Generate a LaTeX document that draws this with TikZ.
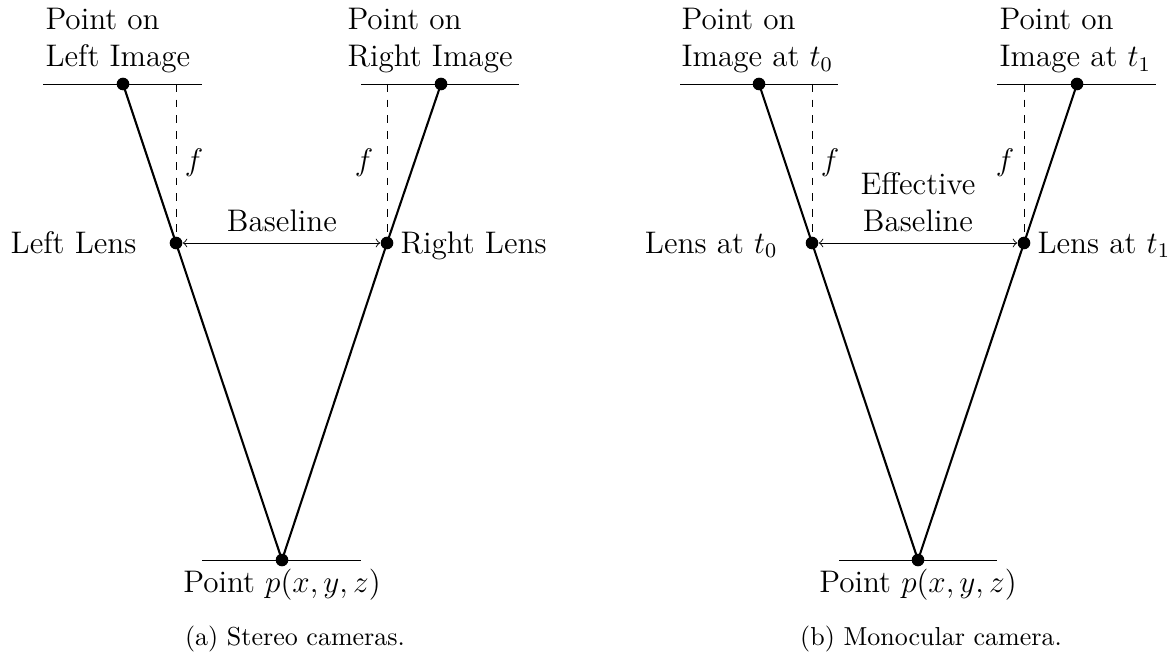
\documentclass[tikz,border=0pt]{standalone}
\begin{document}
\begin{tikzpicture}[x=0.3846pt,y=-0.3846pt,
  dot/.style={circle,fill=black,inner sep=0pt,minimum size=4.85pt},
  ray/.style={thick},
  plane/.style={line width=0.35pt},
  focal/.style={line width=0.35pt,dashed},
  baseln/.style={line width=0.35pt,<->},
  lbl/.style={font=\fontsize{12}{14.5}\selectfont,inner sep=0pt},
  captxt/.style={font=\normalsize,inner sep=0pt}]
\useasboundingbox (0,0) rectangle (1175,665);
% ---------- (a) stereo ----------
\coordinate (aL1) at (43,84);  \coordinate (aL2) at (202,84);
\coordinate (aR1) at (361,84); \coordinate (aR2) at (519,84);
\coordinate (aB1) at (202,560); \coordinate (aB2) at (361,560);
\coordinate (aFL) at (176,84); \coordinate (aFR) at (387,84);
\draw[plane] (aL1) -- (aL2);
\draw[plane] (aR1) -- (aR2);
\draw[plane] (aB1) -- (aB2);
\node[dot] (aImL) at (123,84) {};
\node[dot] (aImR) at (441,84) {};
\node[dot] (aLensL) at (176,243) {};
\node[dot] (aLensR) at (387,243) {};
\node[dot] (aP) at (282,560) {};
\draw[focal] (aFL) -- (aLensL.center);
\draw[focal] (aFR) -- (aLensR.center);
\draw[ray] (aImL.center) -- (aLensL.center) -- (aP.center) -- (aLensR.center) -- (aImR.center);
\draw[baseln] (aLensL) -- (aLensR);
\node[lbl,align=left,anchor=base west] (aTL) at (45,67) {Point on\\Left Image};
\node[lbl,align=left,anchor=base west] (aTR) at (347,67) {Point on\\Right Image};
\node[lbl] (afL) at (194,163) {$f$};
\node[lbl] (afR) at (364,163) {$f$};
\node[lbl,anchor=base east] (aLL) at (137,253) {Left Lens};
\node[lbl,anchor=base west] (aLR) at (400,253) {Right Lens};
\node[lbl,anchor=base] (aBase) at (282,232) {Baseline};
\node[lbl,anchor=base] (aPt) at (282,592) {Point $p(x,y,z)$};
\node[captxt,anchor=base] (aCap) at (295,645) {(a) Stereo cameras.};
% ---------- (b) monocular ----------
\coordinate (bL1) at (680,84);  \coordinate (bL2) at (838,84);
\coordinate (bR1) at (997,84);  \coordinate (bR2) at (1156,84);
\coordinate (bB1) at (839,560); \coordinate (bB2) at (997,560);
\coordinate (bFL) at (812,84); \coordinate (bFR) at (1024,84);
\draw[plane] (bL1) -- (bL2);
\draw[plane] (bR1) -- (bR2);
\draw[plane] (bB1) -- (bB2);
\node[dot] (bImL) at (759,84) {};
\node[dot] (bImR) at (1077,84) {};
\node[dot] (bLensL) at (812,243) {};
\node[dot] (bLensR) at (1024,243) {};
\node[dot] (bP) at (918,560) {};
\draw[focal] (bFL) -- (bLensL.center);
\draw[focal] (bFR) -- (bLensR.center);
\draw[ray] (bImL.center) -- (bLensL.center) -- (bP.center) -- (bLensR.center) -- (bImR.center);
\draw[baseln] (bLensL) -- (bLensR);
\node[lbl,align=left,anchor=base west] (bTL) at (681,67) {Point on\\Image at $t_0$};
\node[lbl,align=left,anchor=base west] (bTR) at (999,67) {Point on\\Image at $t_1$};
\node[lbl] (bfL) at (830,163) {$f$};
\node[lbl] (bfR) at (1005,163) {$f$};
\node[lbl,anchor=base east] (bLL) at (778,253) {Lens at $t_0$};
\node[lbl,anchor=base west] (bLR) at (1037,253) {Lens at $t_1$};
\node[lbl,align=center,anchor=base] (bBase) at (918,232) {Effective\\Baseline};
\node[lbl,anchor=base] (bPt) at (918,592) {Point $p(x,y,z)$};
\node[captxt,anchor=base] (bCap) at (931,645) {(b) Monocular camera.};
\end{tikzpicture}
\end{document}
